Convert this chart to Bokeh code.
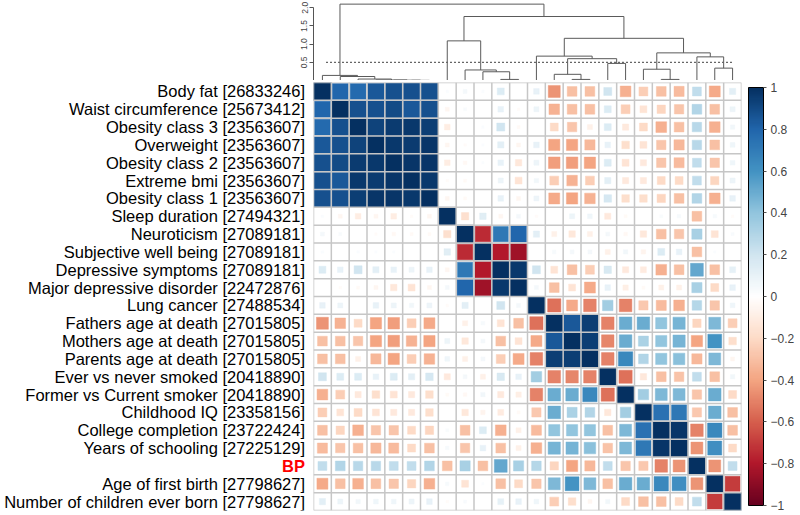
import numpy as np
from bokeh.plotting import figure
from bokeh.layouts import column, row
from bokeh.models import (Range1d, ColumnDataSource, LinearColorMapper, ColorBar, FixedTicker)
from bokeh.core.properties import value
from bokeh.embed import file_html
from bokeh.resources import INLINE

# ---------------- data ----------------
traits = [
    "Body fat [26833246]", "Waist circumference [25673412]", "Obesity class 3 [23563607]",
    "Overweight [23563607]", "Obesity class 2 [23563607]", "Extreme bmi [23563607]",
    "Obesity class 1 [23563607]", "Sleep duration [27494321]", "Neuroticism [27089181]",
    "Subjective well being [27089181]", "Depressive symptoms [27089181]",
    "Major depressive disorder [22472876]", "Lung cancer [27488534]",
    "Fathers age at death [27015805]", "Mothers age at death [27015805]",
    "Parents age at death [27015805]", "Ever vs never smoked [20418890]",
    "Former vs Current smoker [20418890]", "Childhood IQ [23358156]",
    "College completion [23722424]", "Years of schooling [27225129]", "BP",
    "Age of first birth [27798627]", "Number of children ever born [27798627]",
]
highlight_trait = "BP"

# upper triangle of the genetic correlation matrix (row i: columns i..24)
r01 = [1, 0.80, 0.78, 0.85, 0.88, 0.88, 0.88, 0.02, 0.05, 0.02, 0.15, 0.00, 0.10, -0.45, -0.30, -0.30, 0.20, -0.36, -0.25, -0.30, -0.32, 0.25, -0.38, 0.12]
r02 = [1, 0.88, 0.88, 0.90, 0.85, 0.88, -0.05, 0.03, 0.00, 0.10, -0.02, 0.08, -0.35, -0.30, -0.30, 0.15, -0.25, -0.15, -0.22, -0.28, 0.30, -0.30, 0.08]
r03 = [1, 0.93, 0.96, 0.97, 0.95, -0.10, 0.00, 0.02, 0.20, -0.03, 0.00, -0.20, -0.28, -0.08, 0.15, -0.12, -0.20, -0.36, -0.30, 0.28, -0.36, 0.06]
r04 = [1, 0.97, 0.96, 0.98, -0.05, -0.02, 0.02, 0.12, -0.05, 0.10, -0.40, -0.40, -0.33, 0.10, -0.18, -0.15, -0.28, -0.33, 0.28, -0.30, 0.07]
r05 = [1, 0.98, 0.98, -0.10, -0.04, 0.02, 0.10, -0.13, 0.08, -0.42, -0.42, -0.40, 0.15, -0.15, -0.12, -0.28, -0.32, 0.25, -0.28, 0.07]
r06 = [1, 0.97, -0.02, -0.03, 0.00, 0.08, -0.15, 0.06, -0.25, -0.35, -0.25, 0.12, -0.12, -0.12, -0.20, -0.20, 0.25, -0.22, 0.08]
r07 = [1, -0.05, -0.03, 0.00, 0.10, -0.05, 0.08, -0.38, -0.40, -0.35, 0.18, -0.18, -0.18, -0.22, -0.30, 0.30, -0.36, 0.10]
r08 = [1, -0.17, 0.13, -0.05, 0.05, -0.02, 0.00, 0.08, 0.07, -0.12, -0.03, 0.00, 0.03, 0.04, -0.30, 0.04, -0.02]
r09 = [1, -0.75, 0.72, 0.80, 0.12, -0.08, -0.13, -0.08, 0.05, -0.04, -0.13, -0.30, -0.28, 0.33, -0.15, 0.03]
r10 = [1, -0.80, -0.85, 0.00, 0.04, 0.05, 0.05, -0.08, 0.06, -0.06, 0.15, 0.10, -0.30, 0.02, 0.00]
r11 = [1, 0.97, 0.20, -0.15, -0.30, -0.25, 0.17, -0.12, -0.11, -0.36, -0.30, 0.52, -0.30, 0.11]
r12 = [1, 0.05, -0.30, -0.15, -0.38, 0.10, -0.09, -0.03, -0.08, -0.08, 0.33, -0.20, 0.10]
r13 = [1, -0.55, -0.38, -0.50, 0.35, -0.50, -0.27, -0.32, -0.36, 0.29, -0.28, 0.07]
r14 = [1, 0.85, 0.95, -0.50, 0.50, 0.50, 0.40, 0.47, -0.22, 0.45, -0.25]
r15 = [1, 0.95, -0.49, 0.50, 0.32, 0.40, 0.47, -0.40, 0.60, -0.18]
r16 = [1, -0.50, 0.65, 0.30, 0.40, 0.42, -0.33, 0.45, -0.05]
r17 = [1, -0.55, -0.13, -0.30, -0.29, 0.25, -0.30, 0.06]
r18 = [1, 0.35, 0.45, 0.45, -0.28, 0.50, -0.20]
r19 = [1, 0.75, 0.72, -0.27, 0.50, -0.30]
r20 = [1, 0.98, -0.50, 0.65, -0.30]
r21 = [1, -0.45, 0.62, -0.20]
r22 = [1, -0.45, 0.25]
r23 = [1, -0.70]
r24 = [1]
upper_rows = [r01, r02, r03, r04, r05, r06, r07, r08, r09, r10, r11, r12,
              r13, r14, r15, r16, r17, r18, r19, r20, r21, r22, r23, r24]

# hierarchical clustering (R hclust style: negative = leaf column, positive = earlier merge)
merge_left = [-6, -5, -4, -3, -2, -1, -11, -10, -9, -8, -15, -14, -17, 12, -13, -20, -19, -23, -22, 17, 15, 10, 6]
merge_right = [-7, 1, 2, 3, 4, 5, -12, 7, 8, 9, -16, 11, -18, 13, 14, -21, 16, -24, 18, 19, 20, 21, 22]
merge_height = [0.004, 0.008, 0.015, 0.04, 0.11, 0.14, 0.03, 0.24, 0.29, 1.09, 0.03, 0.17, 0.47,
                0.60, 0.67, 0.03, 0.31, 0.34, 0.65, 0.76, 1.16, 1.76, 2.10]
cut_height = 0.5
dendro_ticks = [0, 0.5, 1.0, 1.5, 2.0]
colorbar_ticks = [-1, -0.8, -0.6, -0.4, -0.2, 0, 0.2, 0.4, 0.6, 0.8, 1]

# ---------------- processing ----------------
n = len(traits)
M = np.zeros((n, n))
for i, rw in enumerate(upper_rows):
    for k, v in enumerate(rw):
        M[i, i + k] = v
        M[i + k, i] = v

anchors = ["#67001F", "#B2182B", "#D6604D", "#F4A582", "#FDDBC7", "#FFFFFF",
           "#D1E5F0", "#92C5DE", "#4393C3", "#2166AC", "#053061"]
anchor_rgb = np.array([[int(h[j:j + 2], 16) for j in (1, 3, 5)] for h in anchors], float)


def value_color(v):
    t = (v + 1) / 2 * (len(anchors) - 1)
    i = min(int(np.floor(t)), len(anchors) - 2)
    f = t - i
    c = anchor_rgb[i] * (1 - f) + anchor_rgb[i + 1] * f
    return "#%02x%02x%02x" % tuple(int(round(x)) for x in c)


palette = [value_color(-1 + 2 * k / 199) for k in range(200)]

xs, ys, sz, cols = [], [], [], []
for i in range(n):
    for j in range(n):
        v = M[i, j]
        xs.append(j + 0.5)
        ys.append(i + 0.5)
        sz.append(np.sqrt(abs(v)))
        cols.append(value_color(v))
cell_src = ColumnDataSource(dict(x=xs, y=ys, s=sz, c=cols))

FONT = "Liberation Sans"
LEFT = 313            # width of the label area (px)
GRID_PX = 428         # width/height of the matrix (px)
DEND_PX = 80
cell_px = GRID_PX / n

# ---------------- dendrogram ----------------
d = figure(frame_width=GRID_PX, frame_height=DEND_PX, x_range=Range1d(0, n), y_range=Range1d(0, 2.2),
           min_border_left=LEFT, min_border_right=0, min_border_top=0, min_border_bottom=0,
           x_axis_location=None, toolbar_location=None, output_backend="svg")
d.grid.visible = False
d.outline_line_color = None

mx = []
x0s, y0s, x1s, y1s = [], [], [], []


def nx(ref):
    return (-ref - 0.5) if ref < 0 else mx[ref - 1]


def nh(ref):
    return 0.0 if ref < 0 else merge_height[ref - 1]


for l, r, h in zip(merge_left, merge_right, merge_height):
    xl, xr = nx(l), nx(r)
    x0s += [xl, xl, xr]
    y0s += [nh(l), h, nh(r)]
    x1s += [xl, xr, xr]
    y1s += [h, h, h]
    mx.append((xl + xr) / 2)
d.segment(x0=x0s, y0=y0s, x1=x1s, y1=y1s, line_color="#5a5a5a", line_width=1)
d.segment(x0=[0.7], y0=[cut_height], x1=[n - 0.5], y1=[cut_height],
          line_color="#666666", line_width=1.2, line_dash="2 2")

ya = d.yaxis[0]
ya.ticker = FixedTicker(ticks=dendro_ticks)
ya.major_label_overrides = {t: ("" if t == 0 else "%.1f" % t) for t in dendro_ticks}
ya.bounds = (0, 2)
ya.major_label_orientation = "vertical"
ya.major_label_text_font = FONT
ya.major_label_text_font_size = "8.5px"
ya.major_label_text_color = "#444444"
ya.major_label_standoff = 2
ya.axis_line_color = "#555555"
ya.major_tick_line_color = "#555555"
ya.major_tick_out = 4
ya.major_tick_in = 0
ya.minor_tick_line_color = None

# ---------------- row labels ----------------
lab = figure(frame_width=LEFT, frame_height=GRID_PX,
             x_range=Range1d(-LEFT / cell_px, 0), y_range=Range1d(n, 0),
             min_border_left=0, min_border_right=0, min_border_top=2, min_border_bottom=5,
             x_axis_location=None, y_axis_location=None, toolbar_location=None,
             output_backend="svg")
lab.grid.visible = False
lab.outline_line_color = None
lab_src = ColumnDataSource(dict(
    x=[0] * n, y=[i + 0.5 for i in range(n)], t=traits,
    col=["#ff0000" if t == highlight_trait else "#000000" for t in traits],
    fs=["bold" if t == highlight_trait else "normal" for t in traits]))
lab.text(x="x", y="y", text="t", source=lab_src, x_offset=-8.5,
         text_align="right", text_baseline="middle",
         text_font=value(FONT), text_font_size=value("16.5px"),
         text_color="col", text_font_style="fs")

# ---------------- heatmap ----------------
p = figure(frame_width=GRID_PX, frame_height=GRID_PX,
           x_range=d.x_range, y_range=lab.y_range,
           min_border_left=0, min_border_right=0, min_border_top=2, min_border_bottom=5,
           x_axis_location=None, y_axis_location=None, toolbar_location=None,
           output_backend="svg")
p.grid.visible = False
p.outline_line_color = None

p.rect(x="x", y="y", width="s", height="s", source=cell_src, fill_color="c",
       line_color="c", line_alpha=0.45, line_width=1)

gpos = list(range(n + 1))
p.segment(x0=[0] * (n + 1), y0=gpos, x1=[n] * (n + 1), y1=gpos, line_color="#c6c6c6", line_width=1.5)
p.segment(x0=gpos, y0=[0] * (n + 1), x1=gpos, y1=[n] * (n + 1), line_color="#c6c6c6", line_width=1.5)

mapper = LinearColorMapper(palette=palette, low=-1, high=1)


def fmt(t):
    s = ("%g" % abs(t))
    return ("\u2212" + s) if t < 0 else s


cb = ColorBar(color_mapper=mapper, width=15, height=418, location="center_right",
              ticker=FixedTicker(ticks=colorbar_ticks),
              major_label_overrides={t: fmt(t) for t in colorbar_ticks},
              label_standoff=4, major_tick_out=3, major_tick_in=0,
              major_tick_line_color="#555555", bar_line_color="black",
              major_label_text_font=FONT, major_label_text_font_size="12px",
              padding=7, margin=0, background_fill_color=None, border_line_color=None)
p.add_layout(cb, "right")

layout = column(d, row(lab, p, spacing=0), spacing=0)
open("out.html", "w").write(file_html(layout, INLINE))
